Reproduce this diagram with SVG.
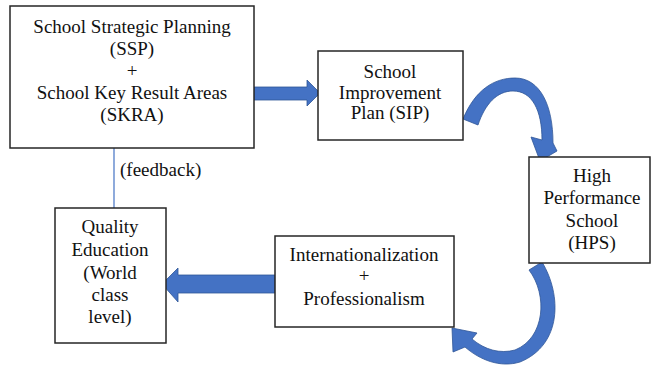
<svg xmlns="http://www.w3.org/2000/svg" width="651" height="367" viewBox="0 0 651 367">
<style>
.box{fill:#fff;stroke:#262626;stroke-width:1.5}
.t{font-size:19px;fill:#111;text-anchor:middle}
.arr{fill:#4472C4;stroke:#2F5597;stroke-width:0.8}
.fb{stroke:#4472C4;stroke-width:1.2;fill:none}
</style>
<rect width="651" height="367" fill="#fff"/>
<g id="connectors" font-family="Liberation Serif, DejaVu Serif, serif">
<line class="fb" x1="114" y1="148" x2="114" y2="208"/>
<text x="120" y="176" font-size="19" fill="#111">(feedback)</text>
<path class="arr" d="M254,87 L307,87 L307,80 L320,93 L307,106 L307,100 L254,100 Z"/>
<path class="arr" d="M463,119 C475,90 494,78 515,78 C540,78 553,105 553,143 L557,151 L540,161 L531,137 L542,140 C542,110 532,91 513,91 C497,91 485,104 478,125 Z"/>
<path class="arr" d="M542,262 C562,295 562,345 520,362 C500,368 480,360 465,347 L453,352 L452,328 L477,333 L472,339 C485,350 500,354 515,350 C545,338 548,295 529,270 Z"/>
<path class="arr" d="M275,275 L178,275 L178,268 L162,284 L178,302 L178,293 L275,293 Z"/>
</g>
<g id="ssp" font-family="Liberation Serif, DejaVu Serif, serif">
<rect class="box" x="10" y="6" width="244" height="142"/>
<text class="t" x="132" y="33">School Strategic Planning</text>
<text class="t" x="132" y="55">(SSP)</text>
<text class="t" x="132" y="77">+</text>
<text class="t" x="132" y="99">School Key Result Areas</text>
<text class="t" x="132" y="121">(SKRA)</text>
</g>
<g id="sip" font-family="Liberation Serif, DejaVu Serif, serif">
<rect class="box" x="318" y="51" width="145" height="89"/>
<text class="t" x="390" y="78">School</text>
<text class="t" x="390" y="99">Improvement</text>
<text class="t" x="390" y="119">Plan (SIP)</text>
</g>
<g id="hps" font-family="Liberation Serif, DejaVu Serif, serif">
<rect class="box" x="529" y="157" width="121" height="106"/>
<text class="t" x="592" y="182">High</text>
<text class="t" x="592" y="204">Performance</text>
<text class="t" x="592" y="227">School</text>
<text class="t" x="592" y="249">(HPS)</text>
</g>
<g id="intl" font-family="Liberation Serif, DejaVu Serif, serif">
<rect class="box" x="275" y="236" width="179" height="91"/>
<text class="t" x="364" y="261">Internationalization</text>
<text class="t" x="364" y="282">+</text>
<text class="t" x="364" y="305">Professionalism</text>
</g>
<g id="quality" font-family="Liberation Serif, DejaVu Serif, serif">
<rect class="box" x="55" y="208" width="111" height="135"/>
<text class="t" x="110" y="233">Quality</text>
<text class="t" x="110" y="256">Education</text>
<text class="t" x="110" y="279">(World</text>
<text class="t" x="110" y="301">class</text>
<text class="t" x="110" y="323">level)</text>
</g>
</svg>
